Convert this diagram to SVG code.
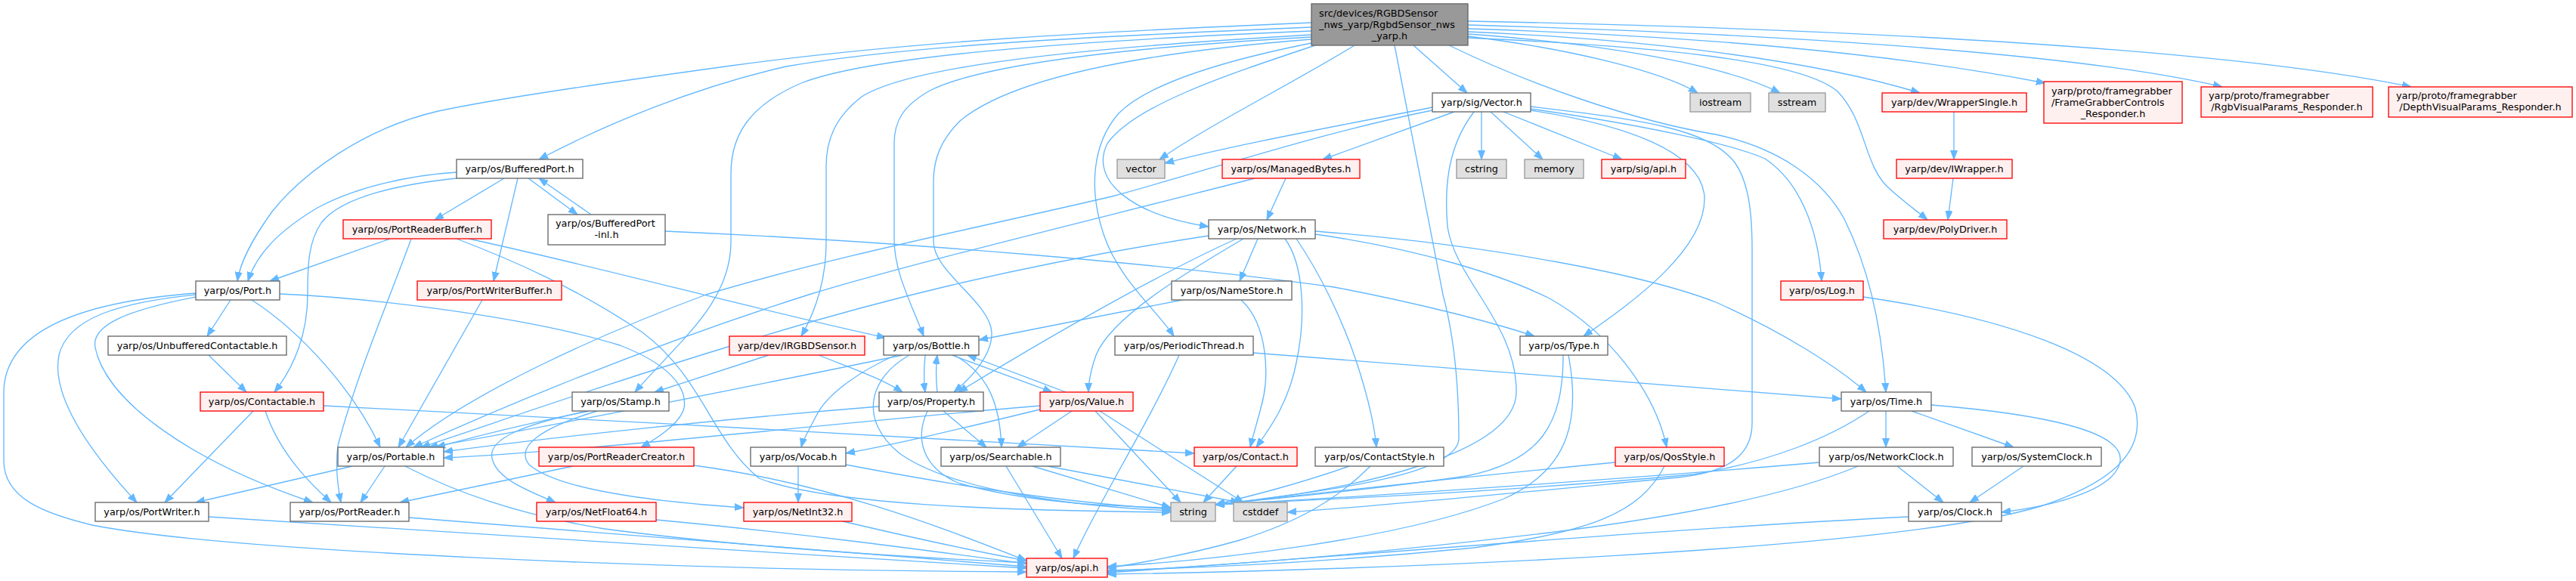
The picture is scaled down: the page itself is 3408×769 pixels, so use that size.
<svg xmlns="http://www.w3.org/2000/svg" width="3408" height="769" viewBox="0 0 3408 769">
<style>
.e{fill:none;stroke:#63b8ff;stroke-width:1.33;marker-end:url(#ah)}
.n rect{fill:#ffffff;stroke:#666666;stroke-width:1.33}
.r rect{fill:#fff0f0;stroke:#ff0000;stroke-width:1.33}
.x rect{fill:#e0e0e0;stroke:#999999;stroke-width:1.33}
.root rect{fill:#999999;stroke:#666666;stroke-width:1.33}
text{font-family:"DejaVu Sans",sans-serif;font-size:12.8px;fill:#000000}
.c{text-anchor:middle}
</style>
<defs>
<marker id="ah" markerWidth="12" markerHeight="10" refX="12" refY="5" orient="auto" markerUnits="userSpaceOnUse"><path d="M0,0.5 L12,5 L0,9.5 z" fill="#63b8ff" stroke="#63b8ff" stroke-width="1"/></marker>
</defs>
<rect x="0" y="0" width="3408" height="769" fill="#ffffff"/>
<g id="edges">
<path class="e" d="M1735,30 C1450,42 1200,55 967,87 C800,110 660,130 580,147 C480,170 400,230 360,280 C335,315 318,345 314,372"/>
<path class="e" d="M1735,36 C1450,48 1200,60 1040,88 C920,115 800,165 713,211"/>
<path class="e" d="M1735,41 C1400,55 1150,75 1060,110 C990,140 967,180 967,230 L967,320 C967,400 900,450 840,519"/>
<path class="e" d="M1735,46 C1400,65 1200,90 1140,128 C1105,155 1093,185 1093,220 L1093,320 C1093,370 1080,410 1060,445"/>
<path class="e" d="M1735,49 C1450,65 1290,90 1230,120 C1195,140 1183,160 1183,190 L1183,317 C1183,360 1205,400 1222,445"/>
<path class="e" d="M1735,52 C1480,72 1330,110 1270,160 C1245,185 1235,210 1235,240 L1235,320 C1235,360 1310,400 1312,440 C1313,470 1285,500 1262,519"/>
<path class="e" d="M1735,57 C1620,80 1520,110 1480,150 C1445,190 1440,250 1460,310 C1480,370 1530,410 1553,445"/>
<path class="e" d="M1740,60 C1620,100 1500,140 1465,190 C1440,240 1500,285 1599,300"/>
<path class="e" d="M1792,60 C1720,105 1600,165 1534,211"/>
<path class="e" d="M1870,60 L1941,123"/>
<path class="e" d="M1942,48 C2080,65 2200,95 2246,123"/>
<path class="e" d="M1942,45 C2120,58 2280,85 2355,123"/>
<path class="e" d="M1942,42 C2180,52 2400,80 2540,123"/>
<path class="e" d="M1942,38 C2250,48 2500,70 2706,110"/>
<path class="e" d="M1942,33 C2350,45 2750,70 2940,115"/>
<path class="e" d="M1942,28 C2450,38 2950,65 3190,115"/>
<path class="e" d="M1942,50 C2200,62 2380,80 2430,120 C2470,160 2465,220 2500,250 C2520,268 2537,280 2550,291"/>
<path class="e" d="M1917,60 C2020,110 2160,160 2270,178 C2350,195 2410,235 2440,290 C2475,360 2490,440 2495,519"/>
<path class="e" d="M1845,60 L1909,390 C1925,450 1930,520 1930,580 C1930,630 1750,650 1608,668"/>
<path class="e" d="M1895,142 C1780,165 1640,190 1541,216"/>
<path class="e" d="M1924,148 L1750,211"/>
<path class="e" d="M1960,148 L1960,211"/>
<path class="e" d="M1972,148 L2041,211"/>
<path class="e" d="M1989,148 L2146,211"/>
<path class="e" d="M1895,146 C1750,175 1600,225 1471,260 C1300,300 1100,340 934,390 C800,440 620,520 537,592"/>
<path class="e" d="M2025,146 C2150,165 2250,200 2255,260 C2258,330 2160,400 2095,445"/>
<path class="e" d="M2025,144 C2170,165 2290,190 2335,210 C2380,240 2405,300 2410,372"/>
<path class="e" d="M2025,141 C2170,158 2260,170 2295,215 C2313,240 2318,280 2318,330 L2318,560 C2318,600 2290,625 2220,632 C2050,648 1850,668 1703,678"/>
<path class="e" d="M1950,148 C1918,190 1910,240 1915,300 C1925,370 2008,430 2006,520 C2004,600 1800,648 1608,668"/>
<path class="e" d="M1701,236 L1676,291"/>
<path class="e" d="M1660,236 C1450,290 1200,350 1070,390 C850,460 650,545 547,592"/>
<path class="e" d="M1664,316 L1640,372"/>
<path class="e" d="M1599,312 C1350,350 1150,400 960,460 C780,515 640,565 557,592"/>
<path class="e" d="M1636,316 C1560,350 1430,420 1268,519"/>
<path class="e" d="M1645,316 C1570,360 1470,420 1450,470 C1443,490 1440,505 1440,519"/>
<path class="e" d="M1700,316 C1725,350 1728,420 1715,480 C1705,530 1685,560 1662,592"/>
<path class="e" d="M1715,316 C1745,360 1775,420 1795,480 C1808,520 1818,560 1821,592"/>
<path class="e" d="M1740,310 C1880,330 1990,365 2050,395 C2130,440 2190,520 2205,592"/>
<path class="e" d="M1740,306 C1980,325 2180,365 2270,400 C2360,440 2430,485 2469,519"/>
<path class="e" d="M1564,397 L1295,450"/>
<path class="e" d="M1642,397 C1678,430 1680,500 1668,540 C1663,560 1658,575 1654,592"/>
<path class="e" d="M1658,467 C1900,485 2200,510 2436,528"/>
<path class="e" d="M1560,470 C1520,560 1450,670 1420,739"/>
<path class="e" d="M1224,470 C1222,490 1222,505 1224,519"/>
<path class="e" d="M1259,470 L1392,519"/>
<path class="e" d="M1262,470 C1310,495 1323,540 1325,592"/>
<path class="e" d="M1194,470 C1000,510 750,560 567,592"/>
<path class="e" d="M1203,470 C1150,500 1135,555 1190,600 C1260,650 1420,670 1549,676"/>
<path class="e" d="M1185,470 C1140,490 1095,520 1080,550 C1070,570 1063,580 1060,592"/>
<path class="e" d="M1240,519 C1238,500 1238,485 1240,470"/>
<path class="e" d="M1248,544 L1305,592"/>
<path class="e" d="M1227,544 C1210,580 1220,620 1270,640 C1360,665 1460,670 1549,672"/>
<path class="e" d="M1163,538 C950,555 720,580 587,598"/>
<path class="e" d="M1410,519 L1280,470"/>
<path class="e" d="M1418,544 L1346,592"/>
<path class="e" d="M1449,544 L1562,665"/>
<path class="e" d="M1455,544 L1645,665"/>
<path class="e" d="M1376,537 C1100,560 800,595 587,606"/>
<path class="e" d="M1376,542 C1280,565 1200,585 1119,600"/>
<path class="e" d="M1331,617 L1405,739"/>
<path class="e" d="M1366,617 L1549,672"/>
<path class="e" d="M1386,617 L1640,665"/>
<path class="e" d="M1636,617 L1592,665"/>
<path class="e" d="M1785,617 C1720,640 1660,655 1608,668"/>
<path class="e" d="M1813,617 C1770,660 1720,690 1640,715 C1570,735 1510,745 1465,752"/>
<path class="e" d="M2137,612 C1950,630 1750,652 1608,668"/>
<path class="e" d="M2202,617 C2170,680 2100,705 1950,725 C1750,745 1580,752 1465,755"/>
<path class="e" d="M2068,470 C2068,560 2040,610 1940,630 C1820,648 1700,658 1608,668"/>
<path class="e" d="M2075,470 C2090,550 2080,620 1990,660 C1850,715 1600,742 1465,750"/>
<path class="e" d="M2495,544 L2495,592"/>
<path class="e" d="M2529,544 L2664,592"/>
<path class="e" d="M2555,536 C2700,548 2810,570 2805,610 C2800,645 2730,668 2648,678"/>
<path class="e" d="M2473,544 C2420,580 2340,612 2240,628 C2000,650 1780,660 1608,668"/>
<path class="e" d="M2510,617 L2571,665"/>
<path class="e" d="M2407,612 C2200,630 1850,655 1608,668"/>
<path class="e" d="M2458,617 C2380,650 2250,680 2050,705 C1800,735 1600,750 1465,756"/>
<path class="e" d="M2677,617 L2606,665"/>
<path class="e" d="M2525,684 C2200,700 1800,735 1465,758"/>
<path class="e" d="M2465,393 C2650,420 2800,470 2825,540 C2840,600 2790,640 2700,670 C2500,730 1800,755 1465,760"/>
<path class="e" d="M2585,148 L2585,211"/>
<path class="e" d="M2584,236 L2577,291"/>
<path class="e" d="M1017,470 L866,519"/>
<path class="e" d="M1083,470 C1120,485 1165,500 1194,519"/>
<path class="e" d="M779,544 C700,560 620,580 577,592"/>
<path class="e" d="M778,544 C700,560 640,580 652,610 C660,635 700,650 735,665"/>
<path class="e" d="M790,544 C720,565 680,590 700,615 C740,650 880,665 984,672"/>
<path class="e" d="M466,617 L259,665"/>
<path class="e" d="M509,617 L477,665"/>
<path class="e" d="M536,617 C600,650 680,680 800,700 C950,720 1150,735 1358,745"/>
<path class="e" d="M305,397 L274,445"/>
<path class="e" d="M333,397 C400,440 470,520 503,592"/>
<path class="e" d="M370,389 C500,395 700,420 820,457 C880,480 910,510 905,540 C900,560 870,580 848,592"/>
<path class="e" d="M259,390 C160,400 90,420 78,470 C66,530 130,610 181,665"/>
<path class="e" d="M259,393 C170,410 120,430 126,460 C140,530 250,610 414,665"/>
<path class="e" d="M259,388 C100,400 5,440 5,520 L5,610 C5,660 60,680 122,695 C300,730 900,755 1358,757"/>
<path class="e" d="M276,470 L326,519"/>
<path class="e" d="M604,228 C540,232 470,248 420,275 C370,305 340,335 328,372"/>
<path class="e" d="M604,236 C520,245 450,262 425,295 C408,320 407,350 407,390 C407,440 390,485 363,519"/>
<path class="e" d="M667,236 L575,291"/>
<path class="e" d="M685,236 L653,372"/>
<path class="e" d="M699,236 L764,284"/>
<path class="e" d="M782,284 L713,236"/>
<path class="e" d="M880,306 C1200,320 1550,350 1765,380 C1870,400 1970,425 2030,445"/>
<path class="e" d="M516,316 L357,372"/>
<path class="e" d="M544,316 C525,370 470,500 447,590 C443,620 447,645 451,665"/>
<path class="e" d="M604,316 C680,345 760,380 850,440 C930,500 940,580 1004,633 C1100,670 1350,676 1549,678"/>
<path class="e" d="M620,316 C800,355 1000,410 1172,447"/>
<path class="e" d="M638,397 L527,592"/>
<path class="e" d="M335,544 L218,665"/>
<path class="e" d="M351,544 C370,600 410,640 438,665"/>
<path class="e" d="M428,537 C800,555 1300,585 1580,600"/>
<path class="e" d="M758,617 L529,665"/>
<path class="e" d="M918,616 C1100,640 1250,700 1358,742"/>
<path class="e" d="M1056,617 L1056,665"/>
<path class="e" d="M1119,615 C1250,640 1400,665 1549,674"/>
<path class="e" d="M868,688 C1050,705 1200,725 1358,746"/>
<path class="e" d="M1115,690 C1200,710 1280,728 1358,742"/>
<path class="e" d="M276,684 C600,705 1000,730 1358,752"/>
<path class="e" d="M541,685 C800,705 1100,730 1358,750"/>
</g>
<g id="root" class="root"><rect x="1735" y="5" width="207" height="55"/><text x="1745" y="21.5">src/devices/RGBDSensor</text><text x="1745" y="36.5">_nws_yarp/RgbdSensor_nws</text><text class="c" x="1838.5" y="51.5">_yarp.h</text></g>
<g id="n_vector_h" class="n"><rect x="1895" y="123" width="130" height="25"/><text class="c" x="1960" y="140">yarp/sig/Vector.h</text></g>
<g id="n_iostream" class="x"><rect x="2236" y="123" width="80" height="25"/><text class="c" x="2276" y="140">iostream</text></g>
<g id="n_sstream" class="x"><rect x="2340" y="123" width="75" height="25"/><text class="c" x="2377.5" y="140">sstream</text></g>
<g id="n_wrappersingle" class="r"><rect x="2490" y="123" width="191" height="25"/><text class="c" x="2585.5" y="140">yarp/dev/WrapperSingle.h</text></g>
<g id="n_fgc" class="r"><rect x="2704" y="108" width="183" height="55"/><text x="2714" y="124.5">yarp/proto/framegrabber</text><text x="2714" y="139.5">/FrameGrabberControls</text><text class="c" x="2795.5" y="154.5">_Responder.h</text></g>
<g id="n_rgbvisual" class="r"><rect x="2912" y="115" width="227" height="40"/><text x="2922" y="131">yarp/proto/framegrabber</text><text class="c" x="3025.5" y="146">/RgbVisualParams_Responder.h</text></g>
<g id="n_depthvisual" class="r"><rect x="3160" y="115" width="243" height="40"/><text x="3170" y="131">yarp/proto/framegrabber</text><text class="c" x="3281.5" y="146">/DepthVisualParams_Responder.h</text></g>
<g id="n_bufferedport" class="n"><rect x="604" y="211" width="167" height="25"/><text class="c" x="687.5" y="228">yarp/os/BufferedPort.h</text></g>
<g id="n_vector" class="x"><rect x="1478" y="211" width="63" height="25"/><text class="c" x="1509.5" y="228">vector</text></g>
<g id="n_managedbytes" class="r"><rect x="1617" y="211" width="182" height="25"/><text class="c" x="1708" y="228">yarp/os/ManagedBytes.h</text></g>
<g id="n_cstring" class="x"><rect x="1927" y="211" width="66" height="25"/><text class="c" x="1960" y="228">cstring</text></g>
<g id="n_memory" class="x"><rect x="2017" y="211" width="78" height="25"/><text class="c" x="2056" y="228">memory</text></g>
<g id="n_sigapi" class="r"><rect x="2119" y="211" width="111" height="25"/><text class="c" x="2174.5" y="228">yarp/sig/api.h</text></g>
<g id="n_iwrapper" class="r"><rect x="2509" y="211" width="153" height="25"/><text class="c" x="2585.5" y="228">yarp/dev/IWrapper.h</text></g>
<g id="n_bpinl" class="n"><rect x="725" y="284" width="155" height="40"/><text x="735" y="300">yarp/os/BufferedPort</text><text class="c" x="802.5" y="315">-inl.h</text></g>
<g id="n_portreaderbuffer" class="r"><rect x="454" y="291" width="196" height="25"/><text class="c" x="552" y="308">yarp/os/PortReaderBuffer.h</text></g>
<g id="n_network" class="n"><rect x="1599" y="291" width="141" height="25"/><text class="c" x="1669.5" y="308">yarp/os/Network.h</text></g>
<g id="n_polydriver" class="r"><rect x="2492" y="291" width="163" height="25"/><text class="c" x="2573.5" y="308">yarp/dev/PolyDriver.h</text></g>
<g id="n_port" class="n"><rect x="259" y="372" width="111" height="25"/><text class="c" x="314.5" y="389">yarp/os/Port.h</text></g>
<g id="n_portwriterbuffer" class="r"><rect x="552" y="372" width="191" height="25"/><text class="c" x="647.5" y="389">yarp/os/PortWriterBuffer.h</text></g>
<g id="n_namestore" class="n"><rect x="1550" y="372" width="159" height="25"/><text class="c" x="1629.5" y="389">yarp/os/NameStore.h</text></g>
<g id="n_log" class="r"><rect x="2356" y="372" width="109" height="25"/><text class="c" x="2410.5" y="389">yarp/os/Log.h</text></g>
<g id="n_unbuffered" class="n"><rect x="143" y="445" width="236" height="25"/><text class="c" x="261" y="462">yarp/os/UnbufferedContactable.h</text></g>
<g id="n_irgbdsensor" class="r"><rect x="965" y="445" width="179" height="25"/><text class="c" x="1054.5" y="462">yarp/dev/IRGBDSensor.h</text></g>
<g id="n_bottle" class="n"><rect x="1169" y="445" width="126" height="25"/><text class="c" x="1232" y="462">yarp/os/Bottle.h</text></g>
<g id="n_periodicthread" class="n"><rect x="1475" y="445" width="183" height="25"/><text class="c" x="1566.5" y="462">yarp/os/PeriodicThread.h</text></g>
<g id="n_type" class="n"><rect x="2011" y="445" width="116" height="25"/><text class="c" x="2069" y="462">yarp/os/Type.h</text></g>
<g id="n_contactable" class="r"><rect x="265" y="519" width="163" height="25"/><text class="c" x="346.5" y="536">yarp/os/Contactable.h</text></g>
<g id="n_stamp" class="n"><rect x="757" y="519" width="128" height="25"/><text class="c" x="821" y="536">yarp/os/Stamp.h</text></g>
<g id="n_property" class="n"><rect x="1163" y="519" width="138" height="25"/><text class="c" x="1232" y="536">yarp/os/Property.h</text></g>
<g id="n_value" class="r"><rect x="1376" y="519" width="123" height="25"/><text class="c" x="1437.5" y="536">yarp/os/Value.h</text></g>
<g id="n_time" class="n"><rect x="2436" y="519" width="119" height="25"/><text class="c" x="2495.5" y="536">yarp/os/Time.h</text></g>
<g id="n_portable" class="n"><rect x="447" y="592" width="140" height="25"/><text class="c" x="517" y="609">yarp/os/Portable.h</text></g>
<g id="n_portreadercreator" class="r"><rect x="713" y="592" width="205" height="25"/><text class="c" x="815.5" y="609">yarp/os/PortReaderCreator.h</text></g>
<g id="n_vocab" class="n"><rect x="993" y="592" width="126" height="25"/><text class="c" x="1056" y="609">yarp/os/Vocab.h</text></g>
<g id="n_searchable" class="n"><rect x="1245" y="592" width="158" height="25"/><text class="c" x="1324" y="609">yarp/os/Searchable.h</text></g>
<g id="n_contact" class="r"><rect x="1580" y="592" width="136" height="25"/><text class="c" x="1648" y="609">yarp/os/Contact.h</text></g>
<g id="n_contactstyle" class="n"><rect x="1740" y="592" width="170" height="25"/><text class="c" x="1825" y="609">yarp/os/ContactStyle.h</text></g>
<g id="n_qosstyle" class="r"><rect x="2137" y="592" width="144" height="25"/><text class="c" x="2209" y="609">yarp/os/QosStyle.h</text></g>
<g id="n_networkclock" class="n"><rect x="2407" y="592" width="177" height="25"/><text class="c" x="2495.5" y="609">yarp/os/NetworkClock.h</text></g>
<g id="n_systemclock" class="n"><rect x="2609" y="592" width="171" height="25"/><text class="c" x="2694.5" y="609">yarp/os/SystemClock.h</text></g>
<g id="n_portwriter" class="n"><rect x="126" y="665" width="150" height="25"/><text class="c" x="201" y="682">yarp/os/PortWriter.h</text></g>
<g id="n_portreader" class="n"><rect x="384" y="665" width="157" height="25"/><text class="c" x="462.5" y="682">yarp/os/PortReader.h</text></g>
<g id="n_netfloat64" class="r"><rect x="710" y="665" width="158" height="25"/><text class="c" x="789" y="682">yarp/os/NetFloat64.h</text></g>
<g id="n_netint32" class="r"><rect x="984" y="665" width="143" height="25"/><text class="c" x="1055.5" y="682">yarp/os/NetInt32.h</text></g>
<g id="n_string" class="x"><rect x="1549" y="665" width="59" height="25"/><text class="c" x="1578.5" y="682">string</text></g>
<g id="n_cstddef" class="x"><rect x="1632" y="665" width="71" height="25"/><text class="c" x="1667.5" y="682">cstddef</text></g>
<g id="n_clock" class="n"><rect x="2525" y="665" width="123" height="25"/><text class="c" x="2586.5" y="682">yarp/os/Clock.h</text></g>
<g id="n_osapi" class="r"><rect x="1358" y="739" width="107" height="25"/><text class="c" x="1411.5" y="756">yarp/os/api.h</text></g>
</svg>
